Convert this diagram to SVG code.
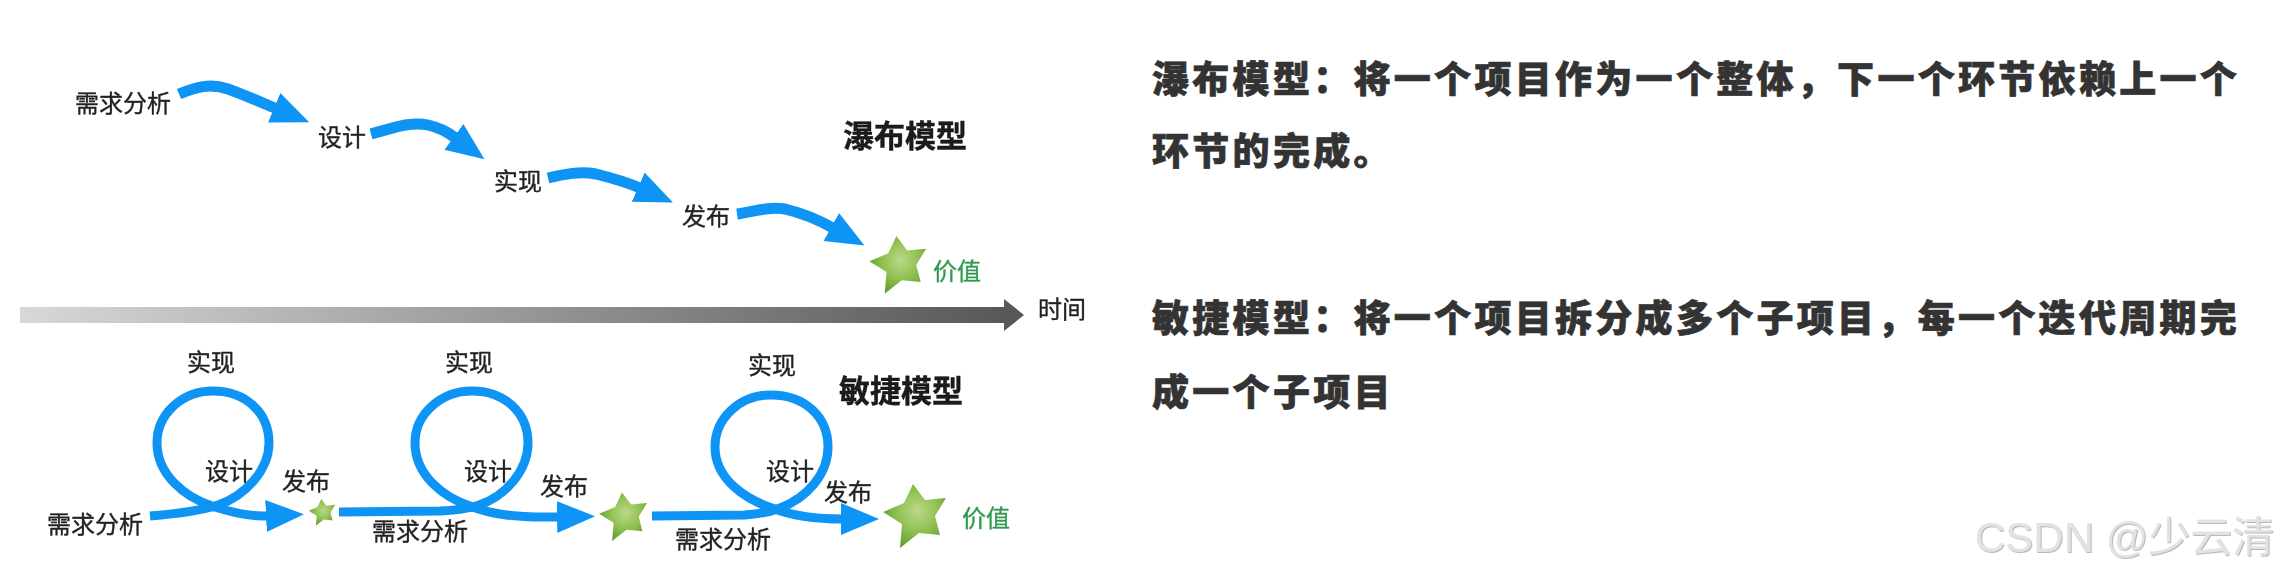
<svg xmlns="http://www.w3.org/2000/svg" width="2276" height="576" viewBox="0 0 2276 576">
<style>
.l{font-family:"Noto Sans CJK SC","Liberation Sans",sans-serif;font-size:24px;fill:#222;stroke:#222;stroke-width:.35px}
.t{font-family:"Noto Sans CJK SC","Liberation Sans",sans-serif;font-size:31px;font-weight:700;fill:#1a1a1a;stroke:#1a1a1a;stroke-width:.4px}
.g{fill:#2f9a50;stroke:#2f9a50}
.b{font-family:"Noto Sans CJK SC","Liberation Sans",sans-serif;font-size:37px;font-weight:900;fill:#333;stroke:#333;stroke-width:.7px;letter-spacing:3.3px}
.w{font-family:"Liberation Sans","Noto Sans CJK SC",sans-serif;font-size:42px;fill:#e2e2e2}
.a{fill:none;stroke:#0f94f5;stroke-width:11}
.o{fill:none;stroke:#0f94f5;stroke-width:9}
</style>
<defs>
<filter id="soft" x="-2%" y="-2%" width="104%" height="104%"><feGaussianBlur stdDeviation="0.7"/></filter>
<filter id="emboss" x="-5%" y="-20%" width="110%" height="140%"><feDropShadow dx="0.8" dy="0.8" stdDeviation="0.5" flood-color="#a8a8a8"/></filter>
<marker id="h" markerUnits="userSpaceOnUse" viewBox="0 -18 40 36" markerWidth="40" markerHeight="36" refX="2" refY="0" orient="auto"><path d="M0-16 38 0 0 16Z" fill="#0f94f5"/></marker>
<linearGradient id="bar" gradientUnits="userSpaceOnUse" x1="20" y1="0" x2="1022" y2="0"><stop offset="0" stop-color="#d8d8d8"/><stop offset="1" stop-color="#565656"/></linearGradient>
<radialGradient id="sg" cx=".55" cy=".42" r=".62"><stop offset="0" stop-color="#bcd98a"/><stop offset=".55" stop-color="#8dbf4e"/><stop offset="1" stop-color="#5c9a2c"/></radialGradient>
<path id="star" d="M-4-31 8-15 29-17 18 1 23 20 2 18-17 33-15 9-34-3-13-12Z" fill="url(#sg)"/>
</defs>
<rect width="2276" height="576" fill="#fff"/>
<g id="diagram" filter="url(#soft)">
<g id="timeline"><path d="M20 307H1004V299L1024 315 1004 331V323H20Z" fill="url(#bar)"/><text class="l" x="1038" y="318">时间</text></g>
<g id="connectors">
<path class="a" marker-end="url(#h)" d="M179 94C196 87 210 83 228 89C242 94 258 101 276 108.5"/>
<path class="a" marker-end="url(#h)" d="M371 134C390 129 410 121 428 125C440 128 446 131 455.5 138"/>
<path class="a" marker-end="url(#h)" d="M548 178C565 174 580 171 596 174C612 178 624 181 640 188"/>
<path class="a" marker-end="url(#h)" d="M737 214C752 212 768 206 785 209C802 213 815 218 833 228"/>
<path class="o" marker-end="url(#h)" d="M150 516C175 514 200 511 218 505C245 496 269 470 269 443C269 412 245 391 213 391C182 391 157 414 157 443C157 475 185 497 212 506C230 512 248 517 268 516"/>
<path class="o" marker-end="url(#h)" d="M339 512L440 511C460 510 465 509 479 505C506 496 528 470 528 443C528 412 504 391 472 391C441 391 415 414 415 443C415 475 443 497 470 506C488 513 510 518 559 517"/>
<path class="o" marker-end="url(#h)" d="M652 516L745 515C760 514 770 512 780 508C807 498 828 474 828 447C828 416 804 395 771 395C740 395 715 418 715 447C715 479 745 499 772 508C790 515 810 519 843 519"/>
</g>
<g id="waterfall">
<text class="t" x="843" y="147">瀑布模型</text>
<g id="w1"><text class="l" x="75" y="112">需求分析</text></g>
<g id="w2"><text class="l" x="318" y="146">设计</text></g>
<g id="w3"><text class="l" x="494" y="190">实现</text></g>
<g id="w4"><text class="l" x="682" y="225">发布</text></g>
<g id="w5"><use href="#star" transform="translate(900 264) scale(.9)"/><text class="l g" x="933" y="280">价值</text></g>
</g>
<g id="agile">
<text class="t" x="839" y="402">敏捷模型</text>
<g id="a1"><text class="l" x="47" y="533">需求分析</text><text class="l" x="205" y="480">设计</text><text class="l" x="187" y="371">实现</text><text class="l" x="282" y="490">发布</text><use href="#star" transform="translate(323 512) scale(.42)"/></g>
<g id="a2"><text class="l" x="372" y="540">需求分析</text><text class="l" x="464" y="480">设计</text><text class="l" x="445" y="371">实现</text><text class="l" x="540" y="495">发布</text><use href="#star" transform="translate(625 516) scale(.76)"/></g>
<g id="a3"><text class="l" x="675" y="548">需求分析</text><text class="l" x="766" y="480">设计</text><text class="l" x="748" y="374">实现</text><text class="l" x="824" y="501">发布</text><use href="#star" transform="translate(917 515)"/><text class="l g" x="962" y="527">价值</text></g>
</g>
</g>
<g id="notes">
<text class="b" x="1152" y="93">瀑布模型&#xFF1A;将一个项目作为一个整体&#xFF0C;下一个环节依赖上一个</text>
<text class="b" x="1152" y="165">环节的完成。</text>
<text class="b" x="1152" y="332">敏捷模型&#xFF1A;将一个项目拆分成多个子项目&#xFF0C;每一个迭代周期完</text>
<text class="b" x="1152" y="406">成一个子项目</text>
</g>
<g id="watermark" filter="url(#emboss)"><text class="w" x="1975" y="552">CSDN @少云清</text></g>
</svg>
